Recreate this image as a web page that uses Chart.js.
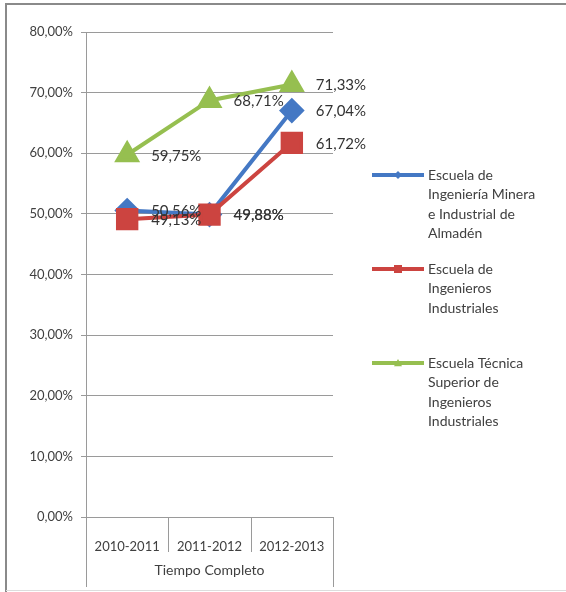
<!DOCTYPE html>
<html>
<head>
<meta charset="utf-8">
<script src="https://cdn.jsdelivr.net/npm/chart.js@4.4.1/dist/chart.umd.min.js"></script>
<style>
  body { margin: 0; background: #fff; }
</style>
</head>
<body>
<canvas id="chart" width="566" height="592"></canvas>
<script>
// data (percent)
const categories = ['2010-2011', '2011-2012', '2012-2013'];
const groupLabel = 'Tiempo Completo';
const almaden = [50.56, 49.88, 67.04];
const ingIndustriales = [49.13, 49.88, 61.72];
const etsiIndustriales = [59.75, 68.71, 71.33];
const seriesNames = [
  ['Escuela de', 'Ingeniería Minera', 'e Industrial de', 'Almadén'],
  ['Escuela de', 'Ingenieros', 'Industriales'],
  ['Escuela Técnica', 'Superior de', 'Ingenieros', 'Industriales'],
];
const yMin = 0, yMax = 80, yStep = 10;

const FONT = 'Lato, "Liberation Sans", sans-serif';
const TEXT = '#404040';

const fmt = (v) => v.toFixed(2).replace('.', ',') + '%';

// labels to the right of every point
const pointLabels = {
  id: 'pointLabels',
  afterDatasetsDraw(chart) {
    const ctx = chart.ctx;
    ctx.save();
    ctx.font = '15px ' + FONT;
    ctx.fillStyle = '#333';
    ctx.textBaseline = 'middle';
    ctx.textAlign = 'left';
    chart.data.datasets.forEach((ds, i) => {
      chart.getDatasetMeta(i).data.forEach((pt, j) => {
        ctx.fillText(fmt(ds.data[j]), pt.x + 24, pt.y + 1);
      });
    });
    ctx.restore();
  },
};

function marker(ctx, style, x, y, r) {
  ctx.beginPath();
  if (style === 'rect') {
    ctx.rect(x - r, y - r, 2 * r, 2 * r);
  } else if (style === 'rectRot') {
    ctx.moveTo(x, y - r); ctx.lineTo(x + r, y); ctx.lineTo(x, y + r); ctx.lineTo(x - r, y);
  } else {
    ctx.moveTo(x, y - r); ctx.lineTo(x + r, y + r * 0.8); ctx.lineTo(x - r, y + r * 0.8);
  }
  ctx.closePath();
  ctx.fill();
}

// frame, category separators, group label and legend
const decorations = {
  id: 'decorations',
  afterDraw(chart) {
    const ctx = chart.ctx;
    const x = chart.scales.x;
    const area = chart.chartArea;
    const half = (x.getPixelForValue(1) - x.getPixelForValue(0)) / 2;
    ctx.save();

    ctx.strokeStyle = '#9a9a9a';
    ctx.lineWidth = 1;
    ctx.beginPath();
    for (let i = 0; i <= categories.length; i++) {
      const px = Math.round(x.getPixelForValue(0) - half + i * 2 * half) + 0.5;
      const outer = i === 0 || i === categories.length;
      ctx.moveTo(px, area.bottom);
      ctx.lineTo(px, area.bottom + (outer ? 70 : 35));
    }
    ctx.stroke();

    ctx.font = '14px ' + FONT;
    ctx.fillStyle = TEXT;
    ctx.textAlign = 'center';
    ctx.textBaseline = 'middle';
    ctx.fillText(groupLabel, (area.left + area.right) / 2, area.bottom + 53);

    // legend
    chart.data.datasets.forEach((ds, i) => {
      const top = 175 + i * 94;
      ctx.strokeStyle = ds.borderColor;
      ctx.fillStyle = ds.borderColor;
      ctx.lineWidth = 4;
      ctx.beginPath();
      ctx.moveTo(372, top);
      ctx.lineTo(424, top);
      ctx.stroke();
      marker(ctx, ds.pointStyle, 398, top, 4);
      ctx.fillStyle = TEXT;
      ctx.textAlign = 'left';
      ctx.font = '14px ' + FONT;
      seriesNames[i].forEach((line, k) => {
        ctx.fillText(line, 428, top + k * 19.5);
      });
    });

    // outer frame
    ctx.strokeStyle = '#8a8a8a';
    ctx.lineWidth = 2;
    ctx.beginPath();
    ctx.moveTo(6, 592);
    ctx.lineTo(6, 4);
    ctx.lineTo(566, 4);
    ctx.stroke();
    ctx.strokeStyle = '#dddddd';
    ctx.lineWidth = 1;
    ctx.beginPath();
    ctx.moveTo(6, 590.5);
    ctx.lineTo(566, 590.5);
    ctx.stroke();
    ctx.restore();
  },
};

new Chart(document.getElementById('chart'), {
  type: 'line',
  data: {
    labels: categories,
    datasets: [
      {
        label: seriesNames[0].join(' '),
        data: almaden,
        borderColor: '#4478c4',
        backgroundColor: '#4478c4',
        pointStyle: 'rectRot',
        pointRadius: 10,
        borderWidth: 4,
        order: 1,
      },
      {
        label: seriesNames[1].join(' '),
        data: ingIndustriales,
        borderColor: '#cc4440',
        backgroundColor: '#cc4440',
        pointStyle: 'rect',
        pointRadius: 13,
        borderWidth: 4,
        order: 0,
      },
      {
        label: seriesNames[2].join(' '),
        data: etsiIndustriales,
        borderColor: '#96bf50',
        backgroundColor: '#96bf50',
        pointStyle: 'triangle',
        pointRadius: 11,
        borderWidth: 4,
        order: 2,
      },
    ],
  },
  options: {
    responsive: false,
    animation: false,
    layout: { padding: { top: 32, left: 0, right: 233, bottom: 0 } },
    plugins: { legend: { display: false }, tooltip: { enabled: false } },
    elements: { line: { tension: 0 }, point: { borderWidth: 1 } },
    scales: {
      x: {
        offset: true,
        grid: { display: false },
        border: { display: true, color: '#9a9a9a' },
        ticks: { color: TEXT, font: { family: FONT, size: 13 }, padding: 14, maxRotation: 0 },
        afterFit: (s) => { s.height = 75; },
      },
      y: {
        min: yMin,
        max: yMax,
        grid: { color: '#9a9a9a', tickLength: 5 },
        border: { display: true, color: '#9a9a9a' },
        ticks: {
          stepSize: yStep,
          color: TEXT,
          font: { family: FONT, size: 13 },
          padding: 8,
          callback: (v) => fmt(v),
        },
        afterFit: (s) => { s.width = 86; },
      },
    },
  },
  plugins: [pointLabels, decorations],
});
</script>
</body>
</html>
